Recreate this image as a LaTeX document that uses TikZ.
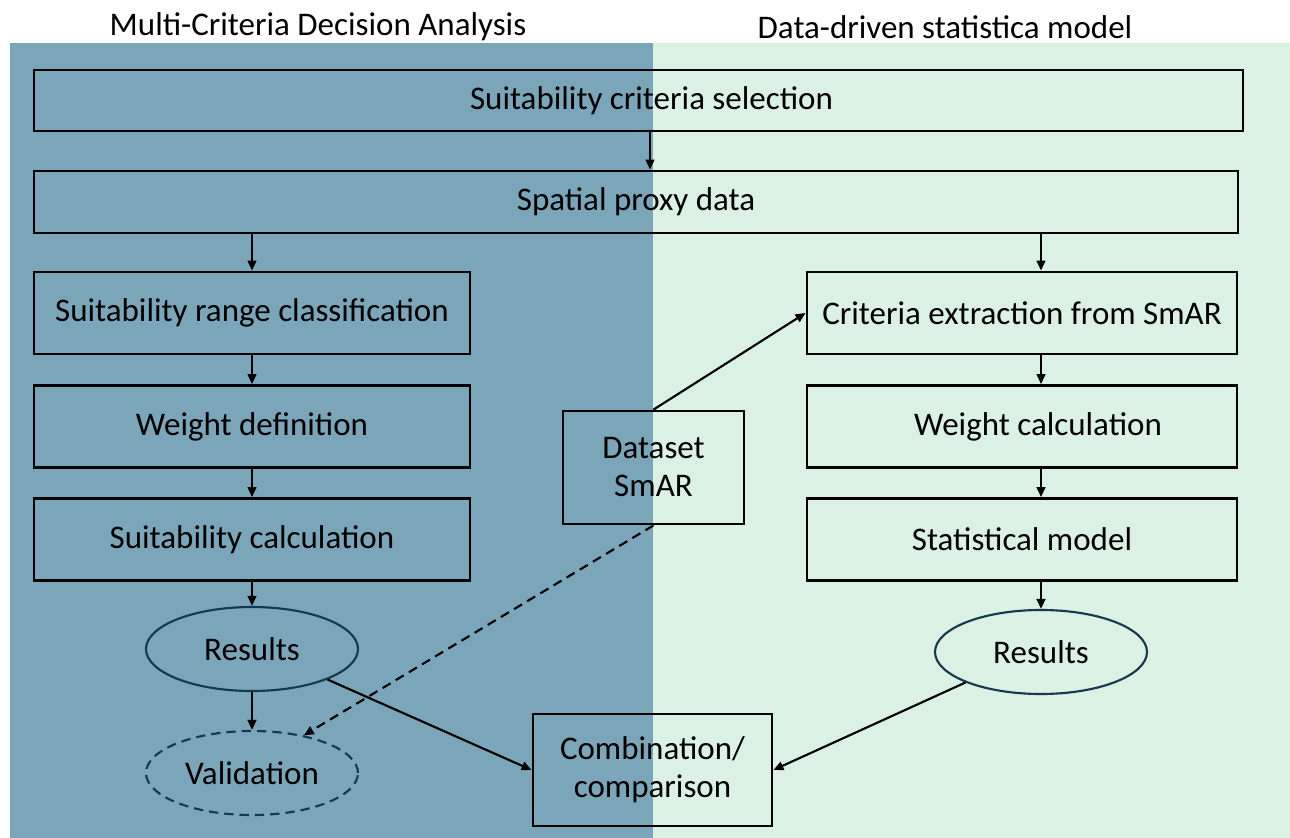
\documentclass[tikz,border=0pt]{standalone}
\usepackage{fontspec}
\setmainfont{Carlito}
\usetikzlibrary{arrows.meta,shapes.geometric}
\definecolor{mcdablue}{HTML}{7BA5B9}
\definecolor{ddgreen}{HTML}{DBF1E4}
\definecolor{navyline}{HTML}{17394D}
\newcommand\dfont{\fontsize{24.75pt}{28.5pt}\selectfont}
\begin{document}
\begin{tikzpicture}[x=0.75pt,y=-0.75pt,
  box/.style={draw=black, line width=2.1pt, rectangle, inner sep=0pt, font=\dfont, align=center},
  ell/.style={ellipse, draw=navyline, line width=1.6pt, minimum width=159pt, minimum height=63pt, inner sep=0pt, font=\dfont},
  arr/.style={-{Triangle[length=7.5pt,width=6.5pt]}, line width=1.6pt, black},
  title/.style={font=\dfont, inner sep=0pt}]
\useasboundingbox (0,0) rectangle (1290,838);
\fill[mcdablue] (10,43) rectangle (653,838);
\fill[ddgreen] (653,43) rectangle (1290,838);

\node[title] (tl) at (318,27) {Multi-Criteria Decision Analysis};
\node[title] (tr) at (945,27) {Data-driven statistica model};

\node[box, minimum width=906.75pt, minimum height=45.75pt] (b1) at (638.5,100.5) {\hspace*{19.5pt}Suitability criteria selection};
\node[box, minimum width=903pt, minimum height=46.5pt] (b2) at (636,202) {Spatial proxy data};

\node[box, minimum width=327pt, minimum height=61.5pt] (l1) at (252,313) {Suitability range classification};
\node[box, minimum width=327pt, minimum height=61.5pt] (l2) at (252,426.5) {Weight definition};
\node[box, minimum width=327pt, minimum height=61.5pt] (l3) at (252,539.5) {Suitability calculation};

\node[box, minimum width=322.5pt, minimum height=61.5pt] (r1) at (1022,313) {Criteria extraction from SmAR};
\node[box, minimum width=322.5pt, minimum height=61.5pt] (r2) at (1022,426.5) {\hspace*{24pt}Weight calculation};
\node[box, minimum width=322.5pt, minimum height=61.5pt] (r3) at (1022,539.5) {Statistical model};

\node[box, minimum width=135.75pt, minimum height=84.75pt] (data) at (653.5,467.5) {Dataset\\SmAR};
\node[box, minimum width=179.25pt, minimum height=84pt] (comb) at (652.5,770) {Combination/\\comparison};

\node[ell] (res1) at (252,649) {Results};
\node[ell, dashed, dash pattern=on 7pt off 4.5pt] (val) at (252,773) {Validation};
\node[ell] (res2) at (1041,652) {Results};

\coordinate (cx) at (650,0);
\coordinate (rx) at (1041,0);

\draw[arr] (b1.south -| cx) -- (b2.north -| cx);
\draw[arr] (b2.south -| l1) -- (l1.north);
\draw[arr] (l1.south) -- (l2.north);
\draw[arr] (l2.south) -- (l3.north);
\draw[arr] (l3.south) -- (res1.north);
\draw[arr] (res1.south) -- (val.north);

\draw[arr] (b2.south -| rx) -- (r1.north -| rx);
\draw[arr] (r1.south -| rx) -- (r2.north -| rx);
\draw[arr] (r2.south -| rx) -- (r3.north -| rx);
\draw[arr] (r3.south -| rx) -- (res2.north);

\draw[arr] (data.north) -- (r1.west);
\draw[arr, dashed, dash pattern=on 7pt off 4.5pt] (data.south) -- (val.36);
\draw[arr] (res1.-22) -- (comb.west);
\draw[arr] (res2.-158) -- (comb.east);
\end{tikzpicture}
\end{document}
